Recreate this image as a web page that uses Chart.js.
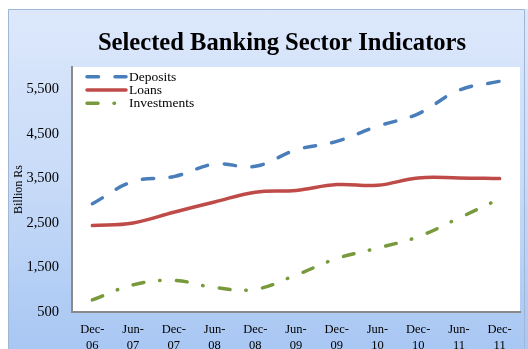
<!DOCTYPE html>
<html>
<head>
<meta charset="utf-8">
<script src="https://cdn.jsdelivr.net/npm/chart.js@4/dist/chart.umd.min.js"></script>
<style>
  html, body { margin: 0; padding: 0; background: #fff; }
  #wrap { width: 528px; height: 349px; }
</style>
</head>
<body>
<div id="wrap"><canvas id="myChart" width="528" height="349"></canvas></div>
<script>
// data
var categories = ['Dec-06','Jun-07','Dec-07','Jun-08','Dec-08','Jun-09','Dec-09','Jun-10','Dec-10','Jun-11','Dec-11']
var deposits = [2930, 3430, 3540, 3820, 3770, 4140, 4330, 4670, 4950, 5480, 5680]
var loans = [2440, 2500, 2740, 2970, 3190, 3230, 3360, 3345, 3510, 3510, 3495]
var investments = [770, 1110, 1210, 1050, 1010, 1330, 1700, 1935, 2190, 2610, 3040]
var yTicks = [500, 1500, 2500, 3500, 4500, 5500]

var serif = "'Liberation Serif', 'Times New Roman', serif"

// frame + gradient + white plot area
const bgPlugin = {
    id: 'bg',
    afterLayout(chart){
        // title is centred as in the original, but the y axis box still starts at the frame
        chart.scales.y.left = 0
    },
    beforeDraw(chart){
        const ctx = chart.ctx
        const a = chart.chartArea
        ctx.save()
        ctx.fillStyle = '#fff'
        ctx.fillRect(0, 0, chart.width, chart.height)
        const g = ctx.createLinearGradient(0, 9, 0, chart.height)
        g.addColorStop(0, '#dde8fb')
        g.addColorStop(0.5, '#c8dbf8')
        g.addColorStop(1, '#a8c7f3')
        ctx.fillStyle = g
        ctx.fillRect(8, 9, chart.width - 8, chart.height - 9)
        ctx.strokeStyle = '#9fb6d6'
        ctx.lineWidth = 1
        ctx.beginPath()
        ctx.moveTo(8.5, chart.height)
        ctx.lineTo(8.5, 9.5)
        ctx.lineTo(524.5, 9.5)
        ctx.lineTo(524.5, chart.height)
        ctx.stroke()
        ctx.fillStyle = '#fff'
        ctx.fillRect(a.left, a.top, a.right - a.left, a.bottom - a.top)
        ctx.restore()
    }
}

// legend drawn inside the plot, top left
const legendPlugin = {
    id: 'insideLegend',
    afterDraw(chart){
        const ctx = chart.ctx
        const a = chart.chartArea
        ctx.save()
        chart.data.datasets.forEach(function(ds, i){
            var y = a.top + 9.7 + i * 13.3
            ctx.strokeStyle = ds.borderColor
            ctx.lineWidth = ds.borderWidth
            ctx.lineCap = 'round'
            ctx.setLineDash(ds.borderDash || [])
            ctx.beginPath()
            ctx.moveTo(a.left + 15, y)
            ctx.lineTo(a.left + 54, y)
            ctx.stroke()
            ctx.setLineDash([])
            ctx.fillStyle = '#000'
            ctx.font = '13.5px ' + serif
            ctx.textBaseline = 'middle'
            ctx.textAlign = 'left'
            ctx.fillText(ds.label, a.left + 57, y + 0.5)
        })
        ctx.restore()
    }
}

const ctx = document.getElementById('myChart')
new Chart(ctx, {
    type: 'line',
    data: {
        labels: categories,
        datasets: [{
            label: 'Deposits',
            data: deposits,
            borderColor: '#4a7ebb',
            borderWidth: 3.5,
            borderDash: [11.5, 16.5],
            borderCapStyle: 'round',
            tension: 0.4,
            pointRadius: 0
        }, {
            label: 'Loans',
            data: loans,
            borderColor: '#be4b48',
            borderWidth: 3.5,
            borderCapStyle: 'round',
            tension: 0.4,
            pointRadius: 0
        }, {
            label: 'Investments',
            data: investments,
            borderColor: '#789a3c',
            borderWidth: 3.5,
            borderDash: [11, 16, 0.5, 16],
            borderCapStyle: 'round',
            tension: 0.4,
            pointRadius: 0
        }]
    },
    options: {
        responsive: false,
        animation: false,
        devicePixelRatio: 1,
        layout: { padding: { left: 44, right: 8, top: 0, bottom: 0 } },
        plugins: {
            legend: { display: false },
            tooltip: { enabled: false },
            title: {
                display: true,
                text: 'Selected Banking Sector Indicators',
                color: '#000',
                font: { family: serif, size: 24.6, weight: 'bold' },
                padding: { top: 29, bottom: 8.5 }
            }
        },
        scales: {
            x: {
                offset: true,
                grid: { display: false, drawTicks: false },
                border: { display: true, color: '#8a8a8a', width: 2 },
                ticks: {
                    color: '#000',
                    padding: 9.5,
                    maxRotation: 0,
                    autoSkip: false,
                    font: { family: serif, size: 12.5, lineHeight: 1.3 },
                    callback: function(v, i){
                        var p = categories[i].split('-')
                        return [p[0] + '-', p[1]]
                    }
                },
                afterFit: function(scale){ scale.height = 37 }
            },
            y: {
                min: 500,
                max: 6000,
                grid: { display: false, drawTicks: false },
                border: { display: true, color: '#8a8a8a', width: 2 },
                afterBuildTicks: function(scale){
                    scale.ticks = yTicks.map(function(v){ return { value: v } })
                },
                ticks: {
                    color: '#000',
                    padding: 13,
                    font: { family: serif, size: 14.5 },
                    callback: function(v){ return v.toLocaleString('en-US') }
                },
                title: {
                    display: true,
                    text: 'Billion Rs',
                    color: '#000',
                    font: { family: serif, size: 12 },
                    padding: { top: 12, bottom: 0 }
                },
                afterFit: function(scale){ scale.width = 28 }
            }
        }
    },
    plugins: [bgPlugin, legendPlugin]
})
</script>
</body>
</html>
